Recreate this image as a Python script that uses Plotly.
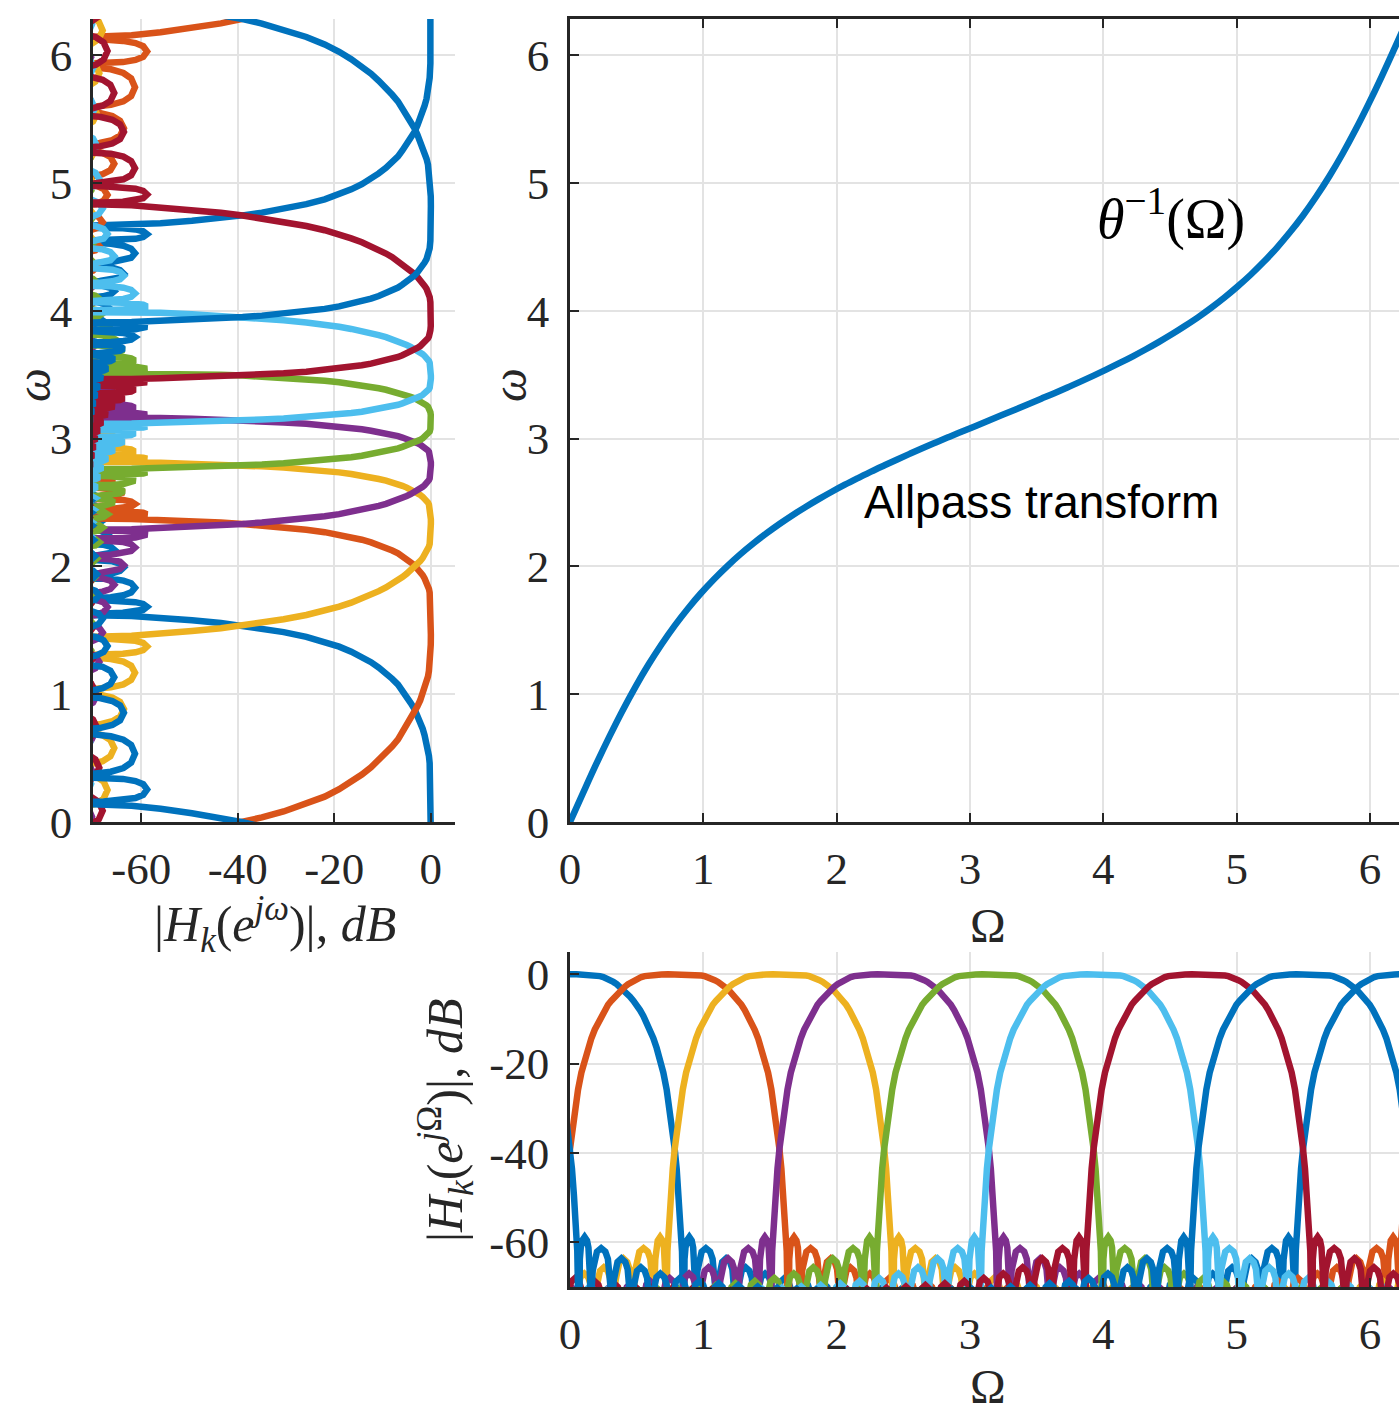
import numpy as np
import plotly.graph_objects as go

# ---------------- data ----------------
CHANNEL_COLORS = ['#0072BD', '#D95319', '#EDB120', '#7E2F8E',
                  '#77AC30', '#4DBEEE', '#A2142F', '#0072BD']
CHANNEL_CENTERS = [0.0, 0.7854, 1.5708, 2.3562, 3.1416, 3.9270, 4.7124, 5.4978]

# prototype band-pass response: main lobe (offset from centre in rad, level in dB)
MAIN_OFFSET = [0.000, 0.050, 0.100, 0.150, 0.200, 0.225, 0.250, 0.275, 0.300,
               0.325, 0.350, 0.375, 0.400, 0.425, 0.450, 0.475, 0.500, 0.525,
               0.550, 0.575, 0.600, 0.625, 0.650, 0.675, 0.700, 0.725, 0.750,
               0.770, 0.785, 0.800, 0.815, 0.830, 0.840, 0.848]
MAIN_DB = [0.0, 0.0, -0.02, -0.1, -0.25, -0.4, -0.6, -0.9, -1.3,
           -1.7, -2.2, -2.8, -3.4, -4.2, -5.0, -5.9, -6.8, -8.0,
           -9.3, -10.8, -12.4, -14.3, -16.5, -19.0, -22.0, -25.8, -30.5,
           -35.0, -39.0, -43.5, -49.5, -56.0, -62.0, -75.0]

# stop-band side lobes: null positions and peak levels
LOBE_EDGES = [0.850, 0.940, 1.098, 1.244, 1.390, 1.536, 1.682, 1.828, 1.974,
              2.120, 2.266, 2.412, 2.558, 2.704, 2.850, 2.996, 3.1416]
LOBE_PEAK_DB = [-58.8, -61.3, -63.6, -65.6, -67.0, -68.0, -68.7, -69.2,
                -69.6, -69.9, -70.2, -70.4, -70.6, -70.8, -71.0, -71.0]
# shape of one side lobe (fraction of lobe width, dB relative to its peak)
LOBE_SHAPE_T = [0.0, 0.02, 0.05, 0.10, 0.18, 0.30, 0.5, 0.70, 0.82, 0.90, 0.95, 0.98, 1.0]
LOBE_SHAPE_DB = [-40.0, -16.0, -9.0, -5.0, -2.4, -0.8, 0.0, -0.8, -2.4, -5.0, -9.0, -16.0, -40.0]

# allpass frequency transform  omega = theta^-1(Omega)
WARP_IN = [0.0, 0.0982, 0.1963, 0.2945, 0.3927, 0.4909, 0.5890, 0.6872, 0.7854,
           0.8836, 0.9817, 1.0799, 1.1781, 1.2763, 1.3744, 1.4726, 1.5708,
           1.6690, 1.7671, 1.8653, 1.9635, 2.0617, 2.1598, 2.2580, 2.3562,
           2.4544, 2.5525, 2.6507, 2.7489, 2.8471, 2.9452, 3.0434, 3.1416,
           3.2398, 3.3379, 3.4361, 3.5343, 3.6325, 3.7306, 3.8288, 3.9270,
           4.0252, 4.1233, 4.2215, 4.3197, 4.4179, 4.5160, 4.6142, 4.7124,
           4.8106, 4.9087, 5.0069, 5.1051, 5.2033, 5.3014, 5.3996, 5.4978,
           5.5960, 5.6941, 5.7923, 5.8905, 5.9887, 6.0868, 6.1850, 6.2832]
WARP_OUT = [0.000, 0.228, 0.452, 0.666, 0.869, 1.058, 1.232, 1.391, 1.537,
            1.669, 1.790, 1.900, 2.001, 2.094, 2.179, 2.258, 2.332,
            2.401, 2.465, 2.526, 2.584, 2.639, 2.691, 2.742, 2.790,
            2.837, 2.883, 2.928, 2.972, 3.015, 3.057, 3.099, 3.142,
            3.184, 3.226, 3.269, 3.312, 3.355, 3.400, 3.446, 3.493,
            3.542, 3.592, 3.644, 3.699, 3.757, 3.818, 3.883, 3.951,
            4.025, 4.104, 4.190, 4.282, 4.383, 4.493, 4.614, 4.746,
            4.892, 5.051, 5.225, 5.414, 5.617, 5.831, 6.055, 6.283]

DB_TICKS = [-60, -40, -20, 0]
DB_TICKTEXT = ['-60', '-40', '-20', '0']
RAD_TICKS = [0, 1, 2, 3, 4, 5, 6]
RAD_TICKTEXT = ['0', '1', '2', '3', '4', '5', '6']

# ---------------- helpers ----------------
TWO_PI = 2 * np.pi
WI = np.array(WARP_IN)
WO = np.array(WARP_OUT)
XE = np.concatenate([[WI[-2] - TWO_PI], WI, [WI[1] + TWO_PI]])
YE = np.concatenate([[WO[-2] - TWO_PI], WO, [WO[1] + TWO_PI]])
SLOPE = (YE[2:] - YE[:-2]) / (XE[2:] - XE[:-2])


def warp(om):
    """map Omega -> omega through the tabulated allpass curve (periodic)"""
    om = np.asarray(om, float)
    q = np.floor(om / TWO_PI)
    r = om - q * TWO_PI
    i = np.clip(np.searchsorted(WI, r, side='right') - 1, 0, len(WI) - 2)
    x0, x1, y0, y1 = WI[i], WI[i + 1], WO[i], WO[i + 1]
    h = x1 - x0
    t = (r - x0) / h
    t2, t3 = t * t, t * t * t
    y = ((2 * t3 - 3 * t2 + 1) * y0 + (t3 - 2 * t2 + t) * h * SLOPE[i]
         + (-2 * t3 + 3 * t2) * y1 + (t3 - t2) * h * SLOPE[i + 1])
    return y + q * TWO_PI


def prototype():
    off = list(MAIN_OFFSET)
    db = list(MAIN_DB)
    for n, pk in enumerate(LOBE_PEAK_DB):
        a, b = LOBE_EDGES[n], LOBE_EDGES[n + 1]
        for t, d in zip(LOBE_SHAPE_T, LOBE_SHAPE_DB):
            off.append(a + t * (b - a))
            db.append(pk + d)
    off = np.array(off)
    db = np.array(db)
    return (np.concatenate([-off[::-1], off[1:]]),
            np.concatenate([db[::-1], db[1:]]))


# ---------------- figure ----------------
W, H = 1399, 1407
LW = 6.5
fig = go.Figure()

p_off, p_db = prototype()
for k, c in enumerate(CHANNEL_CENTERS):
    om = np.concatenate([c + p_off + s for s in (-TWO_PI, 0.0, TWO_PI)])
    db = np.tile(p_db, 3)
    fig.add_trace(go.Scatter(x=om, y=db, xaxis='x3', yaxis='y3', mode='lines',
                             line=dict(color=CHANNEL_COLORS[k], width=LW),
                             hoverinfo='skip', showlegend=False))
    fig.add_trace(go.Scatter(x=db, y=warp(om), xaxis='x', yaxis='y', mode='lines',
                             line=dict(color=CHANNEL_COLORS[k], width=LW),
                             hoverinfo='skip', showlegend=False))

fig.add_trace(go.Scatter(x=WARP_IN, y=WARP_OUT, xaxis='x2', yaxis='y2', mode='lines',
                         line=dict(color='#0072BD', width=LW, shape='spline'),
                         hoverinfo='skip', showlegend=False))


def px_x(p):
    return p / W


def px_y(p):
    return 1 - p / H


TICKFONT = dict(family='Liberation Serif', size=45, color='#262626')
common = dict(showline=True, linecolor='#262626', linewidth=2.5,
              ticks='inside', ticklen=9, tickwidth=2, tickcolor='#262626',
              showgrid=True, gridcolor='#e3e3e3', gridwidth=2, zeroline=False,
              tickfont=TICKFONT, fixedrange=True, automargin=False)

X_RIGHT_MAX = (W - 570) / 133.33
XSTAND = 5
YSTAND = 9

fig.update_layout(
    width=W, height=H, margin=dict(l=0, r=0, t=0, b=0, autoexpand=False),
    paper_bgcolor='white', plot_bgcolor='white', showlegend=False,
    xaxis=dict(common, domain=[px_x(93), px_x(455)], range=[-70, 5], anchor='y',
               tickvals=DB_TICKS, ticktext=DB_TICKTEXT, ticklabelstandoff=XSTAND),
    yaxis=dict(common, domain=[px_y(822), px_y(19)], range=[0, TWO_PI], anchor='x',
               tickvals=RAD_TICKS, ticktext=RAD_TICKTEXT, ticklabelstandoff=YSTAND),
    xaxis2=dict(common, domain=[px_x(570), 1.0], range=[0, X_RIGHT_MAX], anchor='y2',
                mirror='ticks', tickvals=RAD_TICKS, ticktext=RAD_TICKTEXT,
                ticklabelstandoff=XSTAND),
    yaxis2=dict(common, domain=[px_y(822), px_y(19)], range=[0, TWO_PI], anchor='x2',
                tickvals=RAD_TICKS, ticktext=RAD_TICKTEXT, ticklabelstandoff=YSTAND),
    xaxis3=dict(common, domain=[px_x(570), 1.0], range=[0, X_RIGHT_MAX], anchor='y3',
                tickvals=RAD_TICKS, ticktext=RAD_TICKTEXT, ticklabelstandoff=XSTAND),
    yaxis3=dict(common, domain=[px_y(1287), px_y(952)], range=[-70, 5], anchor='x3',
                tickvals=DB_TICKS, ticktext=DB_TICKTEXT, ticklabelstandoff=YSTAND),
)

LBL = dict(family='Liberation Serif', size=50, color='#262626')
ann = [
    dict(text='|<i>H<sub>k</sub></i>(<i>e</i><sup><i>jω</i></sup>)|, <i>dB</i>',
         x=px_x(275), y=px_y(924), xref='paper', yref='paper', showarrow=False,
         xanchor='center', yanchor='middle', font=LBL),
    dict(text='<i>ω</i>', x=px_x(34), y=px_y(385), xref='paper', yref='paper',
         showarrow=False, textangle=-90, xanchor='center', yanchor='middle',
         font=dict(LBL, size=48)),
    dict(text='Ω', x=px_x(988), y=px_y(925), xref='paper', yref='paper',
         showarrow=False, xanchor='center', yanchor='middle', font=dict(LBL, size=48)),
    dict(text='<i>ω</i>', x=px_x(510), y=px_y(385), xref='paper', yref='paper',
         showarrow=False, textangle=-90, xanchor='center', yanchor='middle',
         font=dict(LBL, size=48)),
    dict(text='Ω', x=px_x(988), y=px_y(1386), xref='paper', yref='paper',
         showarrow=False, xanchor='center', yanchor='middle', font=dict(LBL, size=48)),
    dict(text='|<i>H<sub>k</sub></i>(<i>e</i><sup><i>j</i>Ω</sup>)|, <i>dB</i>',
         x=px_x(445), y=px_y(1120), xref='paper', yref='paper', showarrow=False,
         textangle=-90, xanchor='center', yanchor='middle', font=LBL),
    dict(text='<i>θ</i><sup>−1</sup>(Ω)', x=3.94, y=4.75, xref='x2', yref='y2',
         showarrow=False, xanchor='left', yanchor='middle',
         font=dict(family='Liberation Serif', size=56, color='black')),
    dict(text='Allpass transform', x=2.19, y=2.50, xref='x2', yref='y2',
         showarrow=False, xanchor='left', yanchor='middle',
         font=dict(family='Liberation Sans', size=46, color='black')),
]
fig.update_layout(annotations=ann)

fig.write_html('out.html')
